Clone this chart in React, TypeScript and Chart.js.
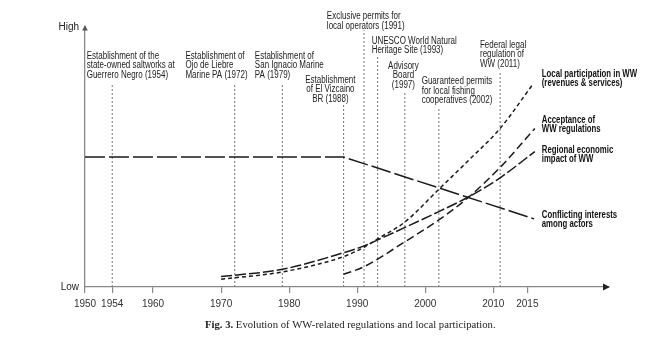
import { useEffect, useRef } from 'react';
import { Chart, registerables } from 'chart.js';

Chart.register(...registerables);

// ---------- data ----------
const tickYears = [1950, 1954, 1960, 1970, 1980, 1990, 2000, 2010, 2015];
const levelTickValues = [0, 100];
const levelTickLabels = ['Low', 'High'];

const localYears = [1970, 1979, 1988, 1991, 1993, 1997, 2002, 2006.4, 2011, 2015.9];
const localValues = [3.0, 5.8, 11.7, 15.3, 18.5, 25.0, 37.6, 48.8, 61.0, 78.3];

const acceptanceYears = [1988, 1991, 1997, 2002, 2006.4, 2011, 2016.1];
const acceptanceValues = [4.9, 7.8, 17.4, 25.8, 34.6, 46.0, 61.0];

const regionalYears = [1970, 1979, 1988, 1991, 1994, 2002, 2006.4, 2011, 2016.1];
const regionalValues = [4.0, 6.8, 13.2, 15.8, 19.3, 29.0, 34.7, 42.0, 52.1];

const conflictYears = [1950, 1988, 2016];
const conflictValues = [50, 50, 26.2];

const eventYears = [1954, 1972, 1979, 1988, 1991, 1993, 1997, 2002, 2011];
const eventTops = [77.7, 78.5, 78.5, 70.8, 98.8, 88.5, 75.4, 68.8, 83.1];
const eventTexts = [
  ['Establishment of the', 'state-owned saltworks at', 'Guerrero Negro (1954)'],
  ['Establishment of', 'Ojo de Liebre', 'Marine PA (1972)'],
  ['Establishment of', 'San Ignacio Marine', 'PA (1979)'],
  ['Establishment', 'of El Vizcaino', 'BR (1988)'],
  ['Exclusive permits for', 'local operators (1991)'],
  ['UNESCO World Natural', 'Heritage Site (1993)'],
  ['Advisory', 'Board', '(1997)'],
  ['Guaranteed permits', 'for local fishing', 'cooperatives (2002)'],
  ['Federal legal', 'regulation of', 'WW (2011)'],
];

const seriesTexts = [
  ['Local participation in WW', '(revenues & services)'],
  ['Acceptance of', 'WW regulations'],
  ['Regional economic', 'impact of WW'],
  ['Conflicting interests', 'among actors'],
];

const captionBold = 'Fig. 3.';
const captionText = ' Evolution of WW-related regulations and local participation.';

// ---------- layout (label anchors in axis units) ----------
const eventLabelAnchors: { x: number; y: number; align: CanvasTextAlign }[] = [
  { x: 1950.25, y: 88.85, align: 'left' },
  { x: 1964.76, y: 88.85, align: 'left' },
  { x: 1974.96, y: 88.85, align: 'left' },
  { x: 1986.06, y: 79.6, align: 'center' },
  { x: 1985.54, y: 104.2, align: 'left' },
  { x: 1992.12, y: 94.7, align: 'left' },
  { x: 1996.79, y: 85.0, align: 'center' },
  { x: 1999.47, y: 79.2, align: 'left' },
  { x: 2008.04, y: 93.1, align: 'left' },
];
const seriesLabelAnchors = [
  { x: 2017.12, y: 81.9 },
  { x: 2017.12, y: 64.2 },
  { x: 2017.12, y: 52.7 },
  { x: 2017.12, y: 27.7 },
];

const SANS = '"Liberation Sans", Arial, Helvetica, sans-serif';
const SERIF = '"Liberation Serif", "Times New Roman", serif';

function toPoints(xs: number[], ys: number[]) {
  return xs.map((x, i) => ({ x, y: ys[i] }));
}

function drawCondensed(
  ctx: CanvasRenderingContext2D,
  text: string,
  x: number,
  y: number,
  align: CanvasTextAlign,
  sx: number
) {
  ctx.save();
  ctx.translate(x, y);
  ctx.scale(sx, 1);
  ctx.textAlign = align;
  ctx.textBaseline = 'middle';
  ctx.fillText(text, 0, 0);
  ctx.restore();
}

const annotationPlugin = {
  id: 'annotations',
  afterDraw(chart: any) {
    const ctx: CanvasRenderingContext2D = chart.ctx;
    const xs = chart.scales.x;
    const ys = chart.scales.y;
    const area = chart.chartArea;
    ctx.save();

    // axis arrows
    ctx.fillStyle = '#222';
    ctx.beginPath();
    ctx.moveTo(area.right + 1, area.bottom);
    ctx.lineTo(area.right - 6, area.bottom - 3.5);
    ctx.lineTo(area.right - 6, area.bottom + 3.5);
    ctx.closePath();
    ctx.fill();

    ctx.fillStyle = '#555';
    ctx.beginPath();
    ctx.moveTo(area.left, area.top - 2);
    ctx.lineTo(area.left - 2.8, area.top + 3.5);
    ctx.lineTo(area.left + 2.8, area.top + 3.5);
    ctx.closePath();
    ctx.fill();

    // event labels
    ctx.fillStyle = '#222';
    ctx.font = `10px ${SANS}`;
    eventTexts.forEach((lines, i) => {
      const a = eventLabelAnchors[i];
      const px = xs.getPixelForValue(a.x);
      const py = ys.getPixelForValue(a.y);
      lines.forEach((t, j) => drawCondensed(ctx, t, px, py + j * 9.7, a.align, 0.8));
    });

    // series labels
    ctx.fillStyle = '#111';
    ctx.font = `bold 10px ${SANS}`;
    seriesTexts.forEach((lines, i) => {
      const a = seriesLabelAnchors[i];
      const px = xs.getPixelForValue(a.x);
      const py = ys.getPixelForValue(a.y);
      lines.forEach((t, j) => drawCondensed(ctx, t, px, py + j * 9.5, 'left', 0.78));
    });

    // caption
    ctx.fillStyle = '#222';
    ctx.textBaseline = 'middle';
    ctx.textAlign = 'left';
    ctx.font = `bold 10.7px ${SERIF}`;
    const cx = 205;
    const cy = 325;
    ctx.fillText(captionBold, cx, cy);
    const w = ctx.measureText(captionBold).width;
    ctx.font = `10.7px ${SERIF}`;
    ctx.fillText(captionText, cx + w, cy);

    ctx.restore();
  },
};

export default function App() {
  const ref = useRef<HTMLCanvasElement | null>(null);

  useEffect(() => {
    const canvas = ref.current;
    if (!canvas) return;

    const mainLine = (data: any[], dash: number[], width = 1.5) => ({
      data,
      borderColor: '#1a1a1a',
      borderWidth: width,
      borderDash: dash,
      pointRadius: 0,
      fill: false,
      cubicInterpolationMode: 'monotone' as const,
    });

    const eventSets = eventYears.map((yr, i) => ({
      data: [
        { x: yr, y: 0 },
        { x: yr, y: eventTops[i] },
      ],
      borderColor: '#777',
      borderWidth: 1,
      borderDash: [2, 2],
      pointRadius: 0,
      fill: false,
    }));

    const chart = new Chart(canvas, {
      type: 'line',
      data: {
        datasets: [
          mainLine(toPoints(localYears, localValues), [4, 3]),
          mainLine(toPoints(acceptanceYears, acceptanceValues), [8, 4]),
          mainLine(toPoints(regionalYears, regionalValues), [11, 3]),
          { ...mainLine(toPoints(conflictYears, conflictValues), [20, 4], 1.5), cubicInterpolationMode: 'default' as const, tension: 0 },
          ...eventSets,
        ] as any,
      },
      options: {
        animation: false,
        responsive: false,
        events: [],
        layout: { padding: { left: 0, top: 27, right: 58, bottom: 0 } },
        plugins: { legend: { display: false }, tooltip: { enabled: false } },
        scales: {
          x: {
            type: 'linear',
            min: 1950,
            max: 2027,
            afterFit: (s: any) => {
              s.height = 54;
            },
            afterBuildTicks: (s: any) => {
              s.ticks = tickYears.map((v) => ({ value: v }));
            },
            grid: {
              display: true,
              drawOnChartArea: false,
              drawTicks: true,
              tickLength: 6,
              color: '#888',
              lineWidth: 1.2,
            },
            border: { display: true, color: '#888', width: 1.3 },
            ticks: {
              autoSkip: false,
              maxRotation: 0,
              padding: 5,
              color: '#333',
              font: { family: SANS, size: 10 },
              callback: (v: any) => String(v),
            },
          },
          y: {
            type: 'linear',
            min: 0,
            max: 100,
            afterFit: (s: any) => {
              s.width = 85;
            },
            afterBuildTicks: (s: any) => {
              s.ticks = levelTickValues.map((v) => ({ value: v }));
            },
            grid: { display: false, drawTicks: false },
            border: { display: true, color: '#888', width: 1.3 },
            ticks: {
              padding: 6,
              color: '#222',
              font: { family: SANS, size: 10 },
              callback: (v: any) => {
                const i = levelTickValues.indexOf(Number(v));
                return i >= 0 ? levelTickLabels[i] : '';
              },
            },
          },
        },
      },
      plugins: [annotationPlugin],
    });

    return () => chart.destroy();
  }, []);

  return (
    <div style={{ position: 'absolute', left: 0, top: 0, width: 667, height: 341, background: '#fff' }}>
      <canvas ref={ref} width={667} height={341} />
    </div>
  );
}
